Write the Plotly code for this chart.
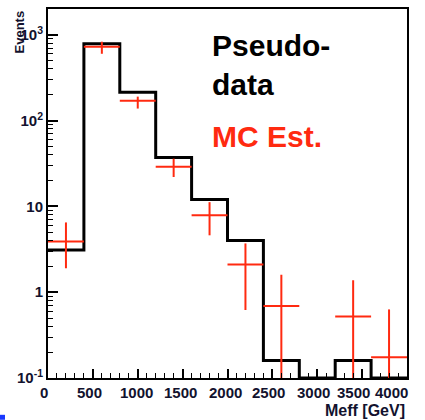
import plotly.graph_objects as go

# ---- data ----
bin_edges = [0, 400, 800, 1200, 1600, 2000, 2400, 2800, 3200, 3600, 4000]
pseudo_data = [3.1, 785, 214, 37, 12, 4.0, 0.16, 0, 0.16, 0]
mc_centers = [200, 600, 1000, 1400, 1800, 2200, 2600, 3400, 3800]
mc_values = [3.9, 725, 170, 29, 7.9, 2.1, 0.69, 0.52, 0.175]
mc_err_up = [2.6, 105, 20, 7, 3.3, 1.6, 0.91, 0.86, 0.455]
mc_err_down = [2.0, 125, 32, 7, 3.3, 1.48, 0.69, 0.52, 0.175]
mc_half_width = [200] * 9
x_tick_vals = [0, 500, 1000, 1500, 2000, 2500, 3000, 3500, 4000]
x_tick_text = ["0", "500", "1000", "1500", "2000", "2500", "3000", "3500", "4000"]
y_tick_vals = [0.1, 1, 10, 100, 1000]
y_tick_text = ["10<sup>-1</sup>", "1", "10", "10<sup>2</sup>", "10<sup>3</sup>"]

YMIN = 0.1
RED = "#ff2a10"
TXT = "#12122e"
FONT = "Liberation Sans, Arial, sans-serif"

fig = go.Figure()

# histogram step line (zero bins sit on the axis floor)
hx = list(bin_edges)
hy = [max(v, YMIN) for v in pseudo_data] + [max(pseudo_data[-1], YMIN)]
fig.add_trace(go.Scatter(x=hx, y=hy, mode="lines", line=dict(shape="hv", color="black", width=3),
                         hoverinfo="skip", showlegend=False))

# MC estimate crosses
ex, ey = [], []
for c, v, hw, up, dn in zip(mc_centers, mc_values, mc_half_width, mc_err_up, mc_err_down):
    ex += [c - hw, c + hw, None]
    ey += [v, v, None]
    lo = v - dn
    if lo <= 0:
        lo = 1e-3
    ex += [c, c, None]
    ey += [lo, v + up, None]
fig.add_trace(go.Scatter(x=ex, y=ey, mode="lines", line=dict(color=RED, width=2),
                         hoverinfo="skip", showlegend=False))

fig.update_xaxes(range=[0, 4000], showgrid=False, zeroline=False,
                 showline=True, linecolor="black", linewidth=2, mirror=True,
                 ticks="inside", ticklen=9, tickwidth=1.5, tickcolor="black",
                 tickvals=x_tick_vals, showticklabels=False,
                 minor=dict(dtick=100, tick0=0, ticks="inside", ticklen=5, tickcolor="black", tickwidth=1.2))
fig.update_yaxes(type="log", range=[-1, 3.3], showgrid=False, zeroline=False,
                 showline=True, linecolor="black", linewidth=2, mirror=True,
                 ticks="inside", ticklen=10, tickwidth=1.5, tickcolor="black",
                 tickvals=y_tick_vals, ticktext=y_tick_text,
                 tickfont=dict(family=FONT, size=15, color=TXT, weight="bold"),
                 minor=dict(tickvals=[m * 10 ** e for e in range(-1, 4) for m in range(2, 10)],
                            ticks="inside", ticklen=5, tickcolor="black", tickwidth=1.2))

label_shift = {0: 2, 500: -3, 1000: -1, 1500: -2, 2000: -2, 2500: -4, 3000: -4, 3500: -9, 4000: 3}
ann = []
for v, t in zip(x_tick_vals, x_tick_text):
    anchor = "right" if v in (x_tick_vals[0], x_tick_vals[-1]) else "center"
    ann.append(dict(x=v, y=0, xref="x", yref="paper", text=t, showarrow=False,
                    xanchor=anchor, yanchor="top", yshift=-4, xshift=label_shift[v],
                    font=dict(family=FONT, size=15, color=TXT, weight="bold")))
ann.append(dict(x=1, y=0, xref="paper", yref="paper", text="Meff [GeV]", showarrow=False,
                xanchor="right", yanchor="top", yshift=-22,
                font=dict(family=FONT, size=16, color=TXT, weight="bold")))
ann.append(dict(x=0, y=1, xref="paper", yref="paper", text="Events", showarrow=False,
                textangle=-90, xanchor="center", yanchor="top", xshift=-29, yshift=0,
                font=dict(family=FONT, size=13, color=TXT, weight="bold")))
ann.append(dict(x=0.451, y=0.952, xref="paper", yref="paper", text="Pseudo-<br>data", showarrow=False,
                xanchor="left", yanchor="top", align="left",
                font=dict(family=FONT, size=30, color="black", weight="bold")))
ann.append(dict(x=0.451, y=0.705, xref="paper", yref="paper", text="MC Est.", showarrow=False,
                xanchor="left", yanchor="top", align="left",
                font=dict(family=FONT, size=30, color=RED, weight="bold")))

fig.update_layout(
    width=425, height=420,
    margin=dict(l=48, r=18, t=7, b=42),
    paper_bgcolor="white", plot_bgcolor="white",
    annotations=ann,
    shapes=[dict(type="rect", xref="paper", yref="paper",
                 x0=-48 / 359, x1=-43 / 359, y0=-42 / 371, y1=-37 / 371,
                 fillcolor="#1838ff", line=dict(width=0))],
)

fig.write_html("out.html")
